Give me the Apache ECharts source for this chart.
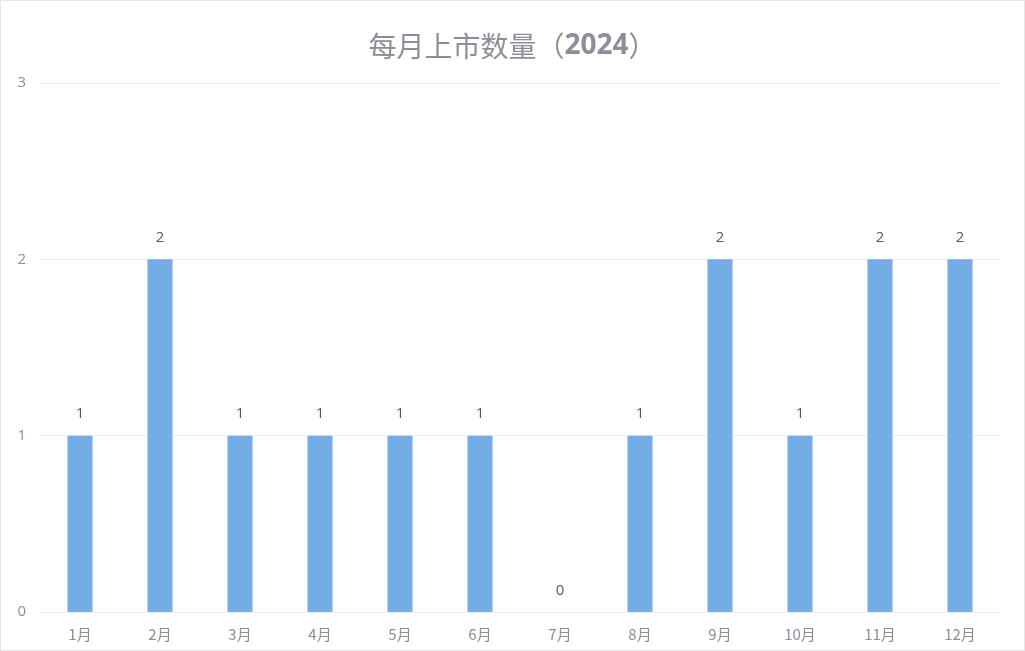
<!DOCTYPE html>
<html>
<head>
<meta charset="utf-8">
<script src="https://cdn.jsdelivr.net/npm/echarts@6/dist/echarts.min.js"></script>
<style>
html,body{margin:0;padding:0;background:#fff;}
#chart{width:1025px;height:651px;box-sizing:border-box;border:1px solid #e6e6e6;}
</style>
</head>
<body>
<div id="chart"></div>
<script>
const categories = ['1月','2月','3月','4月','5月','6月','7月','8月','9月','10月','11月','12月'];
const counts = [1,2,1,1,1,1,0,1,2,1,2,2];
const yTicks = [0,1,2,3];

const chart = echarts.init(document.getElementById('chart'), null, {renderer:'canvas'});
chart.setOption({
  animation:false,
  backgroundColor:'#fff',
  title:{
    text:'每月上市数量（{b|2024}）',
    left:'center',
    top:26,
    textStyle:{
      color:'#8c8f99',
      fontSize:28,
      fontWeight:'normal',
      fontFamily:'"Noto Sans CJK SC", sans-serif',
      rich:{ b:{ color:'#8c8f99', fontSize:28, fontWeight:'bold', fontFamily:'"Open Sans", sans-serif' } }
    }
  },
  grid:{ left:39, right:24, top:82, bottom:38, containLabel:false },
  xAxis:{
    type:'category',
    data:categories,
    axisLine:{ show:true, lineStyle:{ color:'#eeeeee' } },
    axisTick:{ show:false },
    axisLabel:{ color:'#8c8c9c', fontSize:15, margin:15, fontFamily:'"Noto Sans CJK SC", sans-serif' }
  },
  yAxis:{
    type:'value',
    min:yTicks[0],
    max:yTicks[yTicks.length-1],
    interval:1,
    axisLine:{ show:false },
    axisTick:{ show:false },
    splitLine:{ lineStyle:{ color:'#efefef' } },
    axisLabel:{ color:'#8c8c9c', fontSize:15, margin:14, fontFamily:'"Open Sans", sans-serif' }
  },
  series:[{
    type:'bar',
    data:counts,
    barWidth:25,
    itemStyle:{ color:'#74ace4' },
    label:{
      show:true,
      position:'top',
      distance:14,
      color:'#595959',
      fontSize:15,
      fontFamily:'"Open Sans", sans-serif'
    }
  }]
});
</script>
</body>
</html>
